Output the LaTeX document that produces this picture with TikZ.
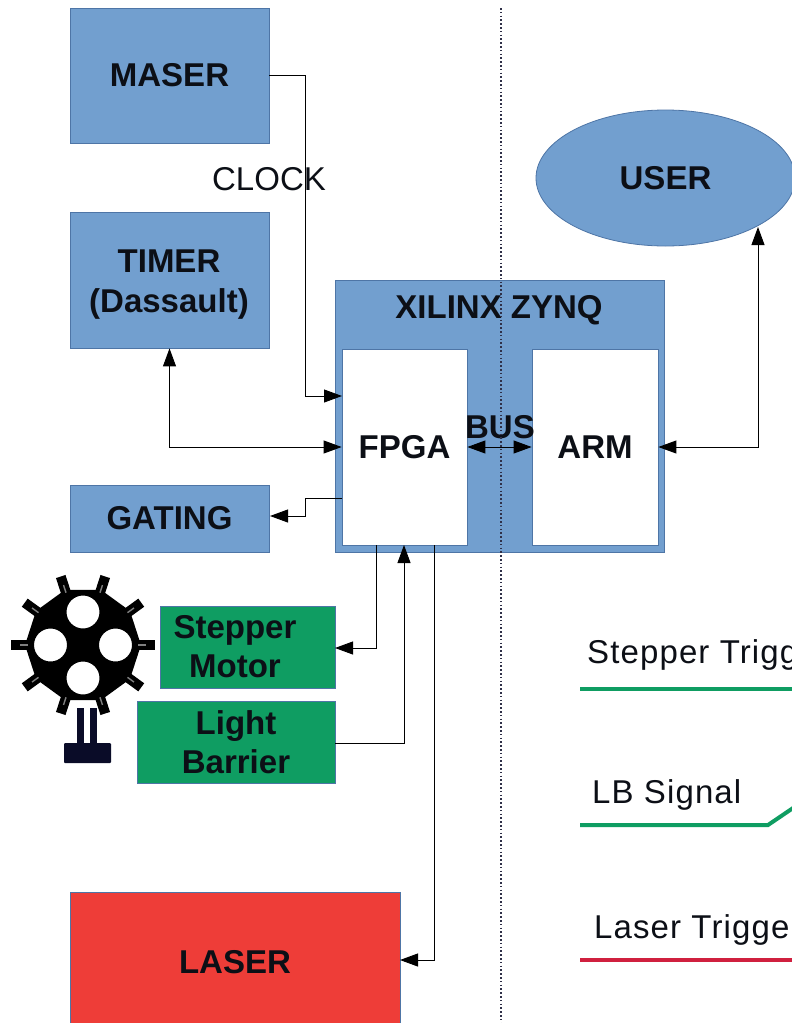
\documentclass[tikz,border=0pt]{standalone}
\usepackage{fontspec}
\setmainfont{Liberation Sans}
\newfontfamily\spacedfont[LetterSpace=3.4]{Liberation Sans}
\usetikzlibrary{arrows.meta,calc,shapes.geometric}
\definecolor{boxblue}{HTML}{729FCF}
\definecolor{boxedge}{HTML}{4E75A6}
\definecolor{boxgreen}{HTML}{0F9D62}
\definecolor{boxred}{HTML}{EE3D38}
\definecolor{sigred}{HTML}{D0203F}
\definecolor{inktext}{HTML}{0C0F16}
\definecolor{sensor}{HTML}{0A0C28}
\tikzset{
  block/.style={draw=boxedge,line width=0.8pt,inner sep=0pt,align=center,font=\fontsize{33}{39}\selectfont\bfseries,text=inktext},
  blue box/.style={block,fill=boxblue},
  white box/.style={block,fill=white},
  green box/.style={block,fill=boxgreen},
  red box/.style={block,fill=boxred},
  boldtext/.style={inner sep=0pt,align=center,font=\fontsize{33}{39}\selectfont\bfseries,text=inktext},
  plaintext/.style={inner sep=0pt,anchor=base west,font=\spacedfont\fontsize{33}{39}\selectfont,text=inktext},
  link/.style={draw=black,line width=0.9pt},
  tip/.style={-{Triangle[length=18pt,width=13pt]}},
  tips/.style={{Triangle[length=18pt,width=13pt]}-{Triangle[length=18pt,width=13pt]}},
  signal/.style={line width=4pt}
}
\begin{document}
\begin{tikzpicture}[x=1pt,y=-1pt]
\useasboundingbox (0,0) rectangle (792,1023);
\clip (0,0) rectangle (792,1023);
% blocks
\node[blue box,minimum width=199pt,minimum height=135pt] (maser) at (169.5,75.5) {MASER};
\node[blue box,minimum width=199pt,minimum height=136pt] (timer) at (169.5,280) {};
\node[blue box,minimum width=199pt,minimum height=67pt] (gating) at (169.5,518.5) {GATING};
\node[blue box,minimum width=329pt,minimum height=272pt] (zynq) at (499.5,416) {};
\node[white box,minimum width=125pt,minimum height=196pt] (fpga) at (404.5,447) {FPGA};
\node[white box,minimum width=126pt,minimum height=196pt] (arm) at (595,447) {ARM};
\node[blue box,ellipse,minimum width=259pt,minimum height=136pt] (user) at (665.5,178) {USER};
\node[green box,minimum width=175pt,minimum height=82pt] (stepper) at (247.5,647) {};
\node[green box,minimum width=198pt,minimum height=82pt] (barrier) at (236,742) {Light\\Barrier};
\node[red box,minimum width=330pt,minimum height=140pt] (laser) at (235,962) {LASER};
% labels placed apart from their boxes
\node[boldtext,font=\fontsize{33}{40}\selectfont\bfseries] (timertext) at (169,285) {TIMER\\(Dassault)};
\node[boldtext] (steppertext) at (235,647) {Stepper\\Motor};
\node[boldtext] (zynqtext) at (499,310.5) {XILINX ZYNQ};
\node[boldtext] (bustext) at (500,427) {BUS};
\node[inner sep=0pt,font=\fontsize{33}{39}\selectfont,text=inktext] (clock) at (269,179) {CLOCK};
% connection points
\coordinate (fpgaclk) at (342,396);
\coordinate (fpgagate) at (342,498);
\coordinate (fpgastep) at (376,545);
\coordinate (fpgalb) at (404,545);
\coordinate (fpgalaser) at (434,545);
\coordinate (stepin) at (335,648);
\coordinate (lbout) at (335,743);
\coordinate (laserin) at (400,960);
\coordinate (gatein) at (270,516);
\coordinate (userin) at (758,227);
% connectors
\draw[link,tip] (maser.east) -- (305,75.5) |- (fpgaclk);
\draw[link,tips] (timer.south) |- (fpga.west);
\draw[link,tip] (fpgagate) -- (305,498) |- (gatein);
\draw[link,tip] (fpgastep) |- (stepin);
\draw[link,tip] (lbout) -| (fpgalb);
\draw[link,tip] (fpgalaser) |- (laserin);
\draw[link,tips] (arm.east) -| (userin);
\draw[link,tips] (fpga.east) -- (arm.west);
% slotted wheel
\fill[black,even odd rule]
  (83,645) ++(0:58) -- ($(83,645)+(36:58)$) -- ($(83,645)+(72:58)$) -- ($(83,645)+(108:58)$) -- ($(83,645)+(144:58)$) -- ($(83,645)+(180:58)$) -- ($(83,645)+(216:58)$) -- ($(83,645)+(252:58)$) -- ($(83,645)+(288:58)$) -- ($(83,645)+(324:58)$) -- cycle
  (83,612) circle (16.5)
  (83,678) circle (16.5)
  (50.5,645) circle (16.5)
  (115.5,645) circle (16.5);
\foreach \a in {0,36,...,324} {
  \draw[black,line width=10pt,line join=round] (83,645) ++(\a:53) -- ++(\a:19);
  \draw[black!50,line width=1.4pt] (83,645) ++(\a:55) -- ++(\a:8);
}
% light barrier sensor
\fill[sensor] (77,708) rectangle (84,743);
\fill[sensor] (90,708) rectangle (97,743);
\fill[sensor,rounded corners=1pt] (64,743) rectangle (111,763);
% timing signals
\node[plaintext] (steptrig) at (587,663) {Stepper Trigg};
\draw[boxgreen,signal] (580,689) -- (792,689);
\node[plaintext] (lbsig) at (592,803) {LB Signal};
\draw[boxgreen,signal] (580,825) -- (768,825) -- (796,806);
\node[plaintext] (lasertrig) at (594,938) {Laser Trigger};
\draw[sigred,signal] (580,960) -- (792,960);
% divider
\draw[sensor!85,line width=1.1pt,dash pattern=on 1.6pt off 2.2pt] (501,8) -- (501,1023);
\end{tikzpicture}
\end{document}
